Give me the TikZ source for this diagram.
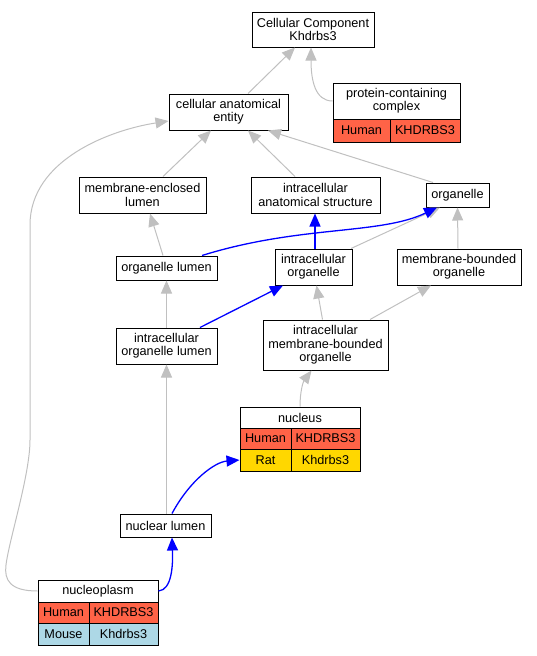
\documentclass[tikz,border=0pt]{standalone}
\usepackage{fontspec}
\setmainfont{Liberation Sans}
\usetikzlibrary{arrows.meta}
\definecolor{isagrey}{RGB}{192,192,192}
\definecolor{humanred}{RGB}{255,99,71}
\definecolor{ratgold}{RGB}{255,215,0}
\definecolor{mouseblue}{RGB}{173,216,230}
\begin{document}
\begin{tikzpicture}[x=1pt,y=-1pt,
  term/.style={draw,line width=1pt,fill=white,align=center,inner sep=0pt,
    font=\fontsize{12.7}{13.3}\selectfont},
  cell/.style={term,minimum height=#1},
  isa/.style={draw=isagrey,line width=1pt,-{Triangle[length=13pt,width=11pt]},isagrey},
  partof/.style={draw=blue,line width=1.3pt,-{Triangle[length=13pt,width=11pt]},blue}]
\useasboundingbox (0,0) rectangle (536,656);

\node[term,minimum width=122pt,minimum height=35pt] (cc) at (313,29.5) {Cellular Component\\Khdrbs3};
\node[term,minimum width=127pt,minimum height=36pt] (pcc) at (396.5,101) {protein-containing\\complex};
\node[cell=23pt,minimum width=57pt,fill=humanred] (pcch) at (361.5,130.5) {Human};
\node[cell=23pt,minimum width=70pt,fill=humanred] (pccg) at (425,130.5) {KHDRBS3};
\node[term,minimum width=119pt,minimum height=36pt] (cae) at (228.5,112) {cellular anatomical\\entity};
\node[term,minimum width=127pt,minimum height=36pt] (mel) at (142.5,195) {membrane-enclosed\\lumen};
\node[term,minimum width=129pt,minimum height=36pt] (ias) at (315.5,195) {intracellular\\anatomical structure};
\node[term,minimum width=63pt,minimum height=24pt] (org) at (457.5,195) {organelle};
\node[term,minimum width=101pt,minimum height=24pt] (ol) at (166.5,268) {organelle lumen};
\node[term,minimum width=77pt,minimum height=36pt] (io) at (313.5,267) {intracellular\\organelle};
\node[term,minimum width=124pt,minimum height=36pt] (mbo) at (459,267) {membrane-bounded\\organelle};
\node[term,minimum width=101pt,minimum height=36pt] (iol) at (166.5,346) {intracellular\\organelle lumen};
\node[term,minimum width=125pt,minimum height=50pt] (imbo) at (325.5,345) {intracellular\\membrane-bounded\\organelle};
\node[cell=21pt,minimum width=120pt] (nuc) at (300,417.5) {nucleus};
\node[cell=21pt,minimum width=51pt,fill=humanred] (nuch) at (265.5,438.5) {Human};
\node[cell=21pt,minimum width=69pt,fill=humanred] (nucg) at (325.5,438.5) {KHDRBS3};
\node[cell=22pt,minimum width=51pt,fill=ratgold] (nucr) at (265.5,460) {Rat};
\node[cell=22pt,minimum width=69pt,fill=ratgold] (nucrg) at (325.5,460) {Khdrbs3};
\node[term,minimum width=91pt,minimum height=23pt] (nl) at (165.5,525.5) {nuclear lumen};
\node[cell=22pt,minimum width=120pt] (np) at (98,591) {nucleoplasm};
\node[cell=21pt,minimum width=51pt,fill=humanred] (nph) at (63.5,612.5) {Human};
\node[cell=21pt,minimum width=69pt,fill=humanred] (npg) at (123.5,612.5) {KHDRBS3};
\node[cell=22pt,minimum width=51pt,fill=mouseblue] (npm) at (63.5,634) {Mouse};
\node[cell=22pt,minimum width=69pt,fill=mouseblue] (npmg) at (123.5,634) {Khdrbs3};

\draw[isa] ([xshift=19.5pt]cae.north) -- ([xshift=-18pt]cc.south);
\draw[isa] (pcc.west) .. controls (315,101) and (311,80) .. ([xshift=-2pt]cc.south);
\draw[isa] ([xshift=20.5pt]mel.north) -- ([xshift=-17.5pt]cae.south);
\draw[isa] ([xshift=-20.5pt]ias.north) -- ([xshift=19.5pt]cae.south);
\draw[isa] ([xshift=-24.5pt]org.north) -- ([xshift=39.5pt]cae.south);
\draw[isa] (np.west) .. controls (10,591) and (4,580) .. (6,565) .. controls (9,540) and (30,475) .. (30,440)
  -- (30,225) .. controls (30,160) and (110,130) .. ([yshift=-9pt]cae.west);
\draw[isa] ([xshift=-3.5pt]ol.north) -- ([xshift=7.5pt]mel.south);
\draw[isa] ([xshift=37.5pt]io.north) -- ([xshift=-17.5pt]org.south);
\draw[isa] ([xshift=-1pt]mbo.north) -- (org.south);
\draw[isa] (iol.north) -- (ol.south);
\draw[isa] ([xshift=-3pt]imbo.north) -- ([xshift=3pt]io.south);
\draw[isa] ([xshift=44.5pt]imbo.north) -- ([xshift=-28pt]mbo.south);
\draw[isa] (nuc.north) .. controls (300,392) and (303,382) .. ([xshift=-14pt]imbo.south);
\draw[isa] ([xshift=1pt]nl.north) -- (iol.south);
\draw[partof] ([xshift=35.5pt]ol.north) .. controls (300,225) and (380,235) .. ([xshift=-20.5pt]org.south);
\draw[partof] ([xshift=1.5pt]io.north) -- ([xshift=-0.5pt]ias.south);
\draw[partof] ([xshift=33.5pt]iol.north) -- ([xshift=-30.5pt]io.south);
\draw[partof] ([xshift=6.5pt]nl.north) .. controls (190,480) and (215,462) .. (nucr.west);
\draw[partof] (np.east) .. controls (172,590) and (173,565) .. ([xshift=6.5pt]nl.south);
\end{tikzpicture}
\end{document}
